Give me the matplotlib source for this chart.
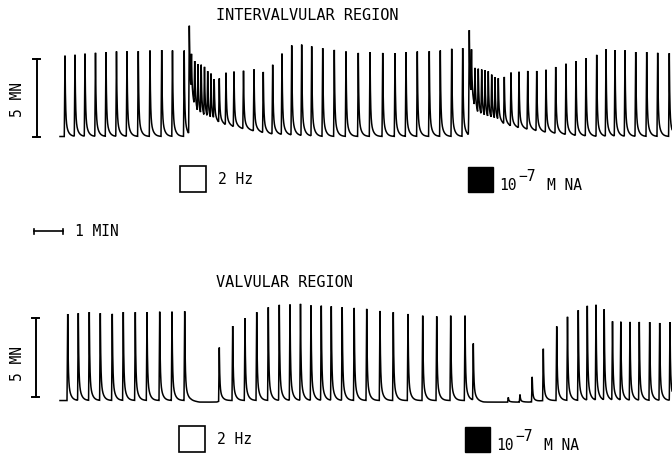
import numpy as np
import matplotlib
matplotlib.use("Agg")
import matplotlib.pyplot as plt
from matplotlib.patches import Rectangle

# ---------------- data (time in min, force in mN) ----------------
top_peak_t = [0.172, 0.517, 0.862, 1.224, 1.586, 1.948, 2.310, 2.700, 3.103, 3.507, 3.879, 4.283,
              4.459, 4.534, 4.645, 4.759, 4.869, 4.983, 5.093, 5.207, 5.317, 5.493, 5.724, 6.000,
              6.328, 6.690, 7.010, 7.334, 7.655, 7.990, 8.334, 8.679, 9.059, 9.459, 9.862, 10.286,
              10.690, 11.128, 11.552, 11.931, 12.321, 12.734, 13.114, 13.507, 13.886,
              14.114, 14.190, 14.310, 14.424, 14.541, 14.655, 14.769, 14.886, 15.000, 15.114,
              15.321, 15.552, 15.828, 16.128, 16.438, 16.759, 17.093, 17.448, 17.793, 18.138,
              18.507, 18.828, 19.138, 19.483, 19.852, 20.231, 20.610, 21.010]
top_peak_f = [5.18, 5.22, 5.29, 5.35, 5.40, 5.44, 5.44, 5.46, 5.50, 5.53, 5.50, 5.50,
              6.94, 4.65, 4.52, 4.39, 4.33, 4.20, 3.91, 3.78, 3.43, 3.62, 4.04, 4.13,
              4.20, 4.29, 4.12, 4.58, 5.29, 5.82, 5.87, 5.76, 5.65, 5.54, 5.44, 5.35,
              5.40, 5.35, 5.33, 5.40, 5.44, 5.46, 5.50, 5.61, 5.65,
              6.73, 5.10, 4.12, 4.12, 4.07, 4.01, 3.94, 3.73, 3.58, 3.51,
              3.75, 4.05, 4.12, 4.18, 4.18, 4.26, 4.44, 4.65, 4.82, 5.01,
              5.22, 5.56, 5.50, 5.50, 5.40, 5.40, 5.35, 5.33]
top_base_t = [-0.1, 4.44, 4.47, 4.55, 4.75, 5.00, 5.35, 6.00, 7.20, 8.30, 9.00,
              14.08, 14.11, 14.20, 14.40, 14.70, 15.20, 15.60, 16.70, 17.80, 18.50, 21.2]
top_base_f = [0.0, 0.0, 2.6, 2.0, 1.3, 1.0, 0.85, 0.6, 0.16, 0.05, 0.0,
              0.0, 2.6, 2.0, 1.3, 1.0, 0.8, 0.6, 0.27, 0.05, 0.0, 0.0]

bot_peak_t = [0.266, 0.631, 1.010, 1.390, 1.803, 2.183, 2.597, 3.000, 3.438, 3.862, 4.300,
              5.493, 5.955, 6.379, 6.783, 7.183, 7.562, 7.931, 8.293, 8.655, 9.010, 9.355,
              9.731, 10.145, 10.576, 11.034, 11.493, 12.000, 12.507, 12.990, 13.472, 13.966,
              14.252, 15.459, 15.862, 16.283, 16.666, 17.128, 17.500, 17.872, 18.183, 18.483,
              18.766, 19.052, 19.338, 19.655, 19.976, 20.334, 20.679, 21.034]
bot_peak_f = [5.52, 5.56, 5.63, 5.56, 5.52, 5.63, 5.63, 5.63, 5.66, 5.66, 5.69,
              3.38, 4.75, 5.25, 5.63, 5.94, 6.09, 6.11, 6.15, 6.05, 6.03, 5.99,
              5.94, 5.90, 5.84, 5.71, 5.63, 5.52, 5.41, 5.37, 5.41, 5.41,
              3.60, 0.20, 0.38, 1.51, 3.30, 4.73, 5.33, 5.75, 6.01, 6.07,
              5.78, 5.01, 4.99, 4.99, 4.99, 4.99, 4.93, 4.99]
bot_base_t = [-0.1, 4.50, 4.80, 5.40, 5.55, 14.30, 14.60, 16.20, 16.70, 21.2]
bot_base_f = [0.0, 0.0, -0.1, -0.1, 0.0, 0.0, -0.1, -0.1, 0.0, 0.0]

trace_start, trace_end = 0.0, 21.15
scale_force = 5      # mN
scale_time = 1       # min

W, H = 672, 456
MIN_PX = 29.0
X0_PX = 60.0

RISE, T1, T2, W1 = 0.024, 0.017, 0.08, 0.74


def make_trace(pk_t, pk_f, b_t, b_f):
    t = np.union1d(np.arange(trace_start, trace_end, 0.0015), pk_t)
    y = np.interp(t, b_t, b_f)
    for tp, fp in zip(pk_t, pk_f):
        amp = fp - np.interp(tp, b_t, b_f)
        dt = t - tp
        r = (dt > -RISE) & (dt <= 0)
        y[r] += amp * (1 + dt[r] / RISE)
        d = dt > 0
        y[d] += amp * (W1 * np.exp(-dt[d] / T1) + (1 - W1) * np.exp(-dt[d] / T2))
    return t, y


fig = plt.figure(figsize=(W / 100, H / 100), dpi=100)
fig.patch.set_facecolor("white")

xl = (-X0_PX / MIN_PX, (W - X0_PX) / MIN_PX)

# top trace axes: fig px y 20..150
ax1 = fig.add_axes([0, 1 - 150 / H, 1, 130 / H])
ax1.set_xlim(*xl)
ax1.set_ylim(-0.80, 7.53)
ax1.axis("off")
t, y = make_trace(top_peak_t, top_peak_f, top_base_t, top_base_f)
ax1.plot(t, y, color="black", lw=1.1, solid_joinstyle="miter")
xb = -0.80
ax1.plot([xb, xb], [-0.05, scale_force - 0.03], color="black", lw=1.4)
ax1.plot([xb - 0.12, xb + 0.12], [-0.05, -0.05], color="black", lw=1.4)
ax1.plot([xb - 0.12, xb + 0.12], [scale_force - 0.03] * 2, color="black", lw=1.4)

# bottom trace axes: fig px y 270..410
ax2 = fig.add_axes([0, 1 - 410 / H, 1, 140 / H])
ax2.set_xlim(*xl)
ax2.set_ylim(-0.54, 8.39)
ax2.axis("off")
t, y = make_trace(bot_peak_t, bot_peak_f, bot_base_t, bot_base_f)
ax2.plot(t, y, color="black", lw=1.1, solid_joinstyle="miter")
xb = -0.83
ax2.plot([xb, xb], [0.24, 0.24 + scale_force], color="black", lw=1.4)
ax2.plot([xb - 0.12, xb + 0.12], [0.24, 0.24], color="black", lw=1.4)
ax2.plot([xb - 0.12, xb + 0.12], [0.24 + scale_force] * 2, color="black", lw=1.4)

# overlay in pixel coordinates for labels
ov = fig.add_axes([0, 0, 1, 1])
ov.set_xlim(0, W)
ov.set_ylim(H, 0)
ov.axis("off")
ov.patch.set_alpha(0)

FONT = "DejaVu Sans Mono"
ov.text(307, 16, "INTERVALVULAR REGION", family=FONT, fontsize=11.0,
        ha="center", va="center")
ov.text(284, 283, "VALVULAR REGION", family=FONT, fontsize=11.0,
        ha="center", va="center")
ov.text(18, 100, "5 MN", family=FONT, fontsize=10.5, rotation=90,
        ha="center", va="center")
ov.text(17, 364, "5 MN", family=FONT, fontsize=10.5, rotation=90,
        ha="center", va="center")

# 1 min bar
bx0 = 33.6
ov.plot([bx0, bx0 + scale_time * MIN_PX], [232, 232], color="black", lw=1.2)
ov.plot([bx0, bx0], [229.5, 234.5], color="black", lw=1.2)
ov.plot([bx0 + MIN_PX, bx0 + MIN_PX], [229.5, 234.5], color="black", lw=1.2)
ov.text(75, 232, "1 MIN", family=FONT, fontsize=10.5, ha="left", va="center")

# stimulus legends
for (wx, wy, bx, by) in [(180, 167, 468, 168), (179, 427, 465, 428)]:
    ov.add_patch(Rectangle((wx, wy), 26, 26, facecolor="white",
                           edgecolor="black", lw=1.2))
    ov.add_patch(Rectangle((bx, by), 25, 25, facecolor="black",
                           edgecolor="black", lw=1.0))
    ov.text(wx + 38, wy + 13, "2 Hz", family=FONT, fontsize=10.5,
            ha="left", va="center")
    ov.text(bx + 31, by + 18, "10", family=FONT, fontsize=10.5,
            ha="left", va="center")
    ov.text(bx + 50, by + 9, "\u22127", family=FONT, fontsize=10.5,
            ha="left", va="center")
    ov.text(bx + 79, by + 18, "M NA", family=FONT, fontsize=10.5,
            ha="left", va="center")

fig.savefig("out.png", dpi=100, facecolor="white")
